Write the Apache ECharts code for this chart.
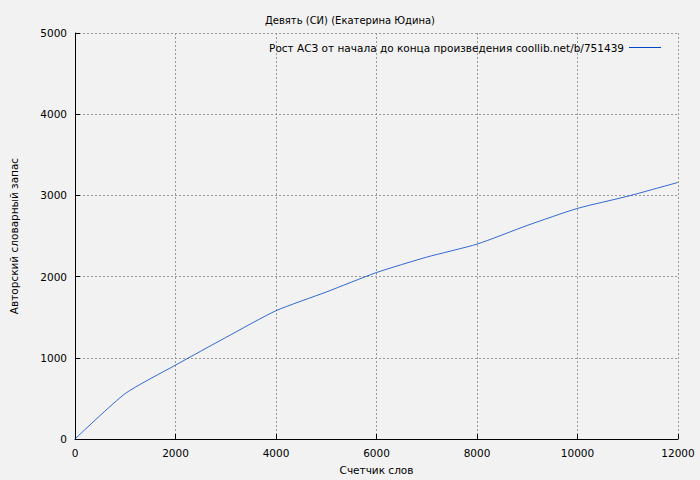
<!DOCTYPE html>
<html><head><meta charset="utf-8">
<script src="https://cdn.jsdelivr.net/npm/echarts@6/dist/echarts.min.js"></script>
<style>body{margin:0;background:#f2f2f2}#c{width:700px;height:480px}</style>
</head><body><div id="c"></div>
<script>
var words = [0, 1000, 2000, 3000, 4000, 5000, 6000, 7000, 8000, 9000, 10000, 11000, 12000];
var vocab = [0, 560, 910, 1250, 1580, 1810, 2050, 2240, 2400, 2630, 2840, 2990, 3160];
var seriesName = 'Рост АСЗ от начала до конца произведения coollib.net/b/751439';

var chart = echarts.init(document.getElementById('c'), null, {renderer: 'svg'});
chart.setOption({
  animation: false,
  backgroundColor: '#f2f2f2',
  textStyle: {fontFamily: 'DejaVu Sans', color: '#000'},
  title: {
    text: 'Девять (СИ) (Екатерина Юдина)',
    left: 'center', top: 10,
    textStyle: {fontSize: 10, fontWeight: 'normal', color: '#000'}
  },
  legend: {
    right: 34, top: 37, align: 'right',
    itemWidth: 32, itemHeight: 1, itemGap: 4,
    icon: 'rect',
    textStyle: {fontSize: 10.5, color: '#000'},
    data: [seriesName]
  },
  grid: {left: 67, right: 22, top: 33, bottom: 40},
  xAxis: {
    type: 'value', min: 0, max: 12000, interval: 2000,
    name: 'Счетчик слов', nameLocation: 'middle', nameGap: 25,
    nameTextStyle: {fontSize: 10.5},
    axisLine: {lineStyle: {color: '#000'}},
    axisTick: {inside: true, lineStyle: {color: '#000'}},
    axisLabel: {fontSize: 10.5, color: '#000', formatter: function (v) { return String(v); }},
    splitLine: {lineStyle: {color: '#999', type: [2, 2]}}
  },
  yAxis: {
    type: 'value', min: 0, max: 5000, interval: 1000,
    name: 'Авторский словарный запас', nameLocation: 'middle', nameGap: 56,
    nameTextStyle: {fontSize: 10.5},
    axisLine: {show: true, lineStyle: {color: '#000'}},
    axisTick: {show: true, inside: true, lineStyle: {color: '#000'}},
    axisLabel: {fontSize: 10.5, color: '#000', formatter: function (v) { return String(v); }},
    splitLine: {lineStyle: {color: '#999', type: [2, 2]}}
  },
  series: [{
    name: seriesName,
    type: 'line',
    data: words.map(function (w, i) { return [w, vocab[i]]; }),
    showSymbol: false,
    smooth: 0.2,
    lineStyle: {width: 0.8, color: '#0045c8'},
    itemStyle: {color: '#0045c8'}
  }]
});
</script></body></html>
